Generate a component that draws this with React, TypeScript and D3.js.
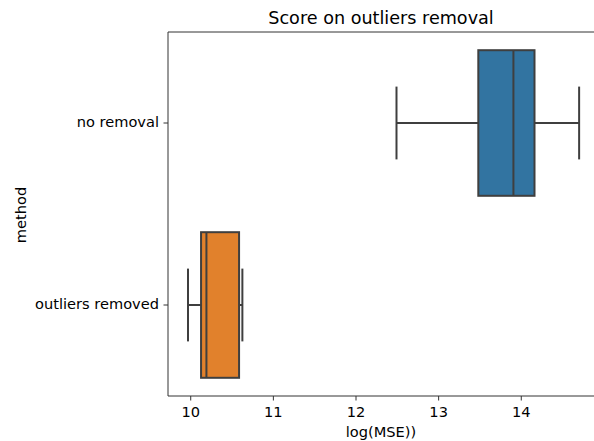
import React from "react";
import * as d3 from "d3";

const methods = ["no removal", "outliers removed"];
const whiskerLow = [12.49, 9.967];
const q1 = [13.48, 10.125];
const medians = [13.905, 10.19];
const q3 = [14.16, 10.585];
const whiskerHigh = [14.7, 10.625];
const boxColors = ["#3274a1", "#e1812c"];
const xTicks = [10, 11, 12, 13, 14];

const W = 594,
  H = 441;
const margin = { top: 32, right: 0, bottom: 45, left: 168 };
const font = "DejaVu Sans, sans-serif";
const lineColor = "#3f3f3f";
const labelSize = 14.6;

const App: React.FC = () => {
  const iw = W - margin.left - margin.right;
  const ih = H - margin.top - margin.bottom;

  const x = d3.scaleLinear().domain([9.725, 14.88]).range([0, iw]);
  const y = d3.scaleBand().domain(methods).range([0, ih]).padding(0);
  const bw = y.bandwidth() * 0.8;
  const capW = y.bandwidth() * 0.4;

  return (
    <svg width={W} height={H} style={{ position: "absolute", left: 0, top: 0, background: "#fff" }}>
      <text x={margin.left + iw / 2} y={24} textAnchor="middle" fontFamily={font} fontSize={17.6} fill="#000">
        Score on outliers removal
      </text>
      <g transform={`translate(${margin.left},${margin.top})`}>
        {methods.map((m, i) => {
          const cy = (y(m) ?? 0) + y.bandwidth() / 2;
          return (
            <g key={m}>
              <line x1={x(whiskerLow[i])} x2={x(q1[i])} y1={cy} y2={cy} stroke={lineColor} strokeWidth={2} />
              <line x1={x(q3[i])} x2={x(whiskerHigh[i])} y1={cy} y2={cy} stroke={lineColor} strokeWidth={2} />
              <line x1={x(whiskerLow[i])} x2={x(whiskerLow[i])} y1={cy - capW / 2} y2={cy + capW / 2} stroke={lineColor} strokeWidth={2} />
              <line x1={x(whiskerHigh[i])} x2={x(whiskerHigh[i])} y1={cy - capW / 2} y2={cy + capW / 2} stroke={lineColor} strokeWidth={2} />
              <rect
                x={x(q1[i])}
                y={cy - bw / 2}
                width={x(q3[i]) - x(q1[i])}
                height={bw}
                fill={boxColors[i]}
                stroke={lineColor}
                strokeWidth={2}
              />
              <line x1={x(medians[i])} x2={x(medians[i])} y1={cy - bw / 2} y2={cy + bw / 2} stroke={lineColor} strokeWidth={2} />
            </g>
          );
        })}
        {/* spines */}
        <line x1={0} x2={iw} y1={0} y2={0} stroke="#333" strokeWidth={1} />
        <line x1={0} x2={iw} y1={ih} y2={ih} stroke="#333" strokeWidth={1} />
        <line x1={0} x2={0} y1={0} y2={ih} stroke="#333" strokeWidth={1} />
        {xTicks.map((t) => (
          <g key={t} transform={`translate(${x(t)},${ih})`}>
            <line y1={0} y2={4.5} stroke="#333" />
            <text y={17} textAnchor="middle" dominantBaseline="middle" fontFamily={font} fontSize={labelSize} fill="#000">
              {t}
            </text>
          </g>
        ))}
        {methods.map((m) => (
          <g key={m} transform={`translate(0,${(y(m) ?? 0) + y.bandwidth() / 2})`}>
            <line x1={-4.5} x2={0} stroke="#333" />
            <text x={-9} textAnchor="end" dominantBaseline="middle" fontFamily={font} fontSize={labelSize} fill="#000">
              {m}
            </text>
          </g>
        ))}
        <text x={iw / 2} y={ih + 41} textAnchor="middle" fontFamily={font} fontSize={labelSize} fill="#000">
          log(MSE))
        </text>
        <text
          transform={`translate(${22 - margin.left},${ih / 2 + 1}) rotate(-90)`}
          textAnchor="middle"
          dominantBaseline="middle"
          fontFamily={font}
          fontSize={labelSize}
          fill="#000"
        >
          method
        </text>
      </g>
    </svg>
  );
};

export default App;
